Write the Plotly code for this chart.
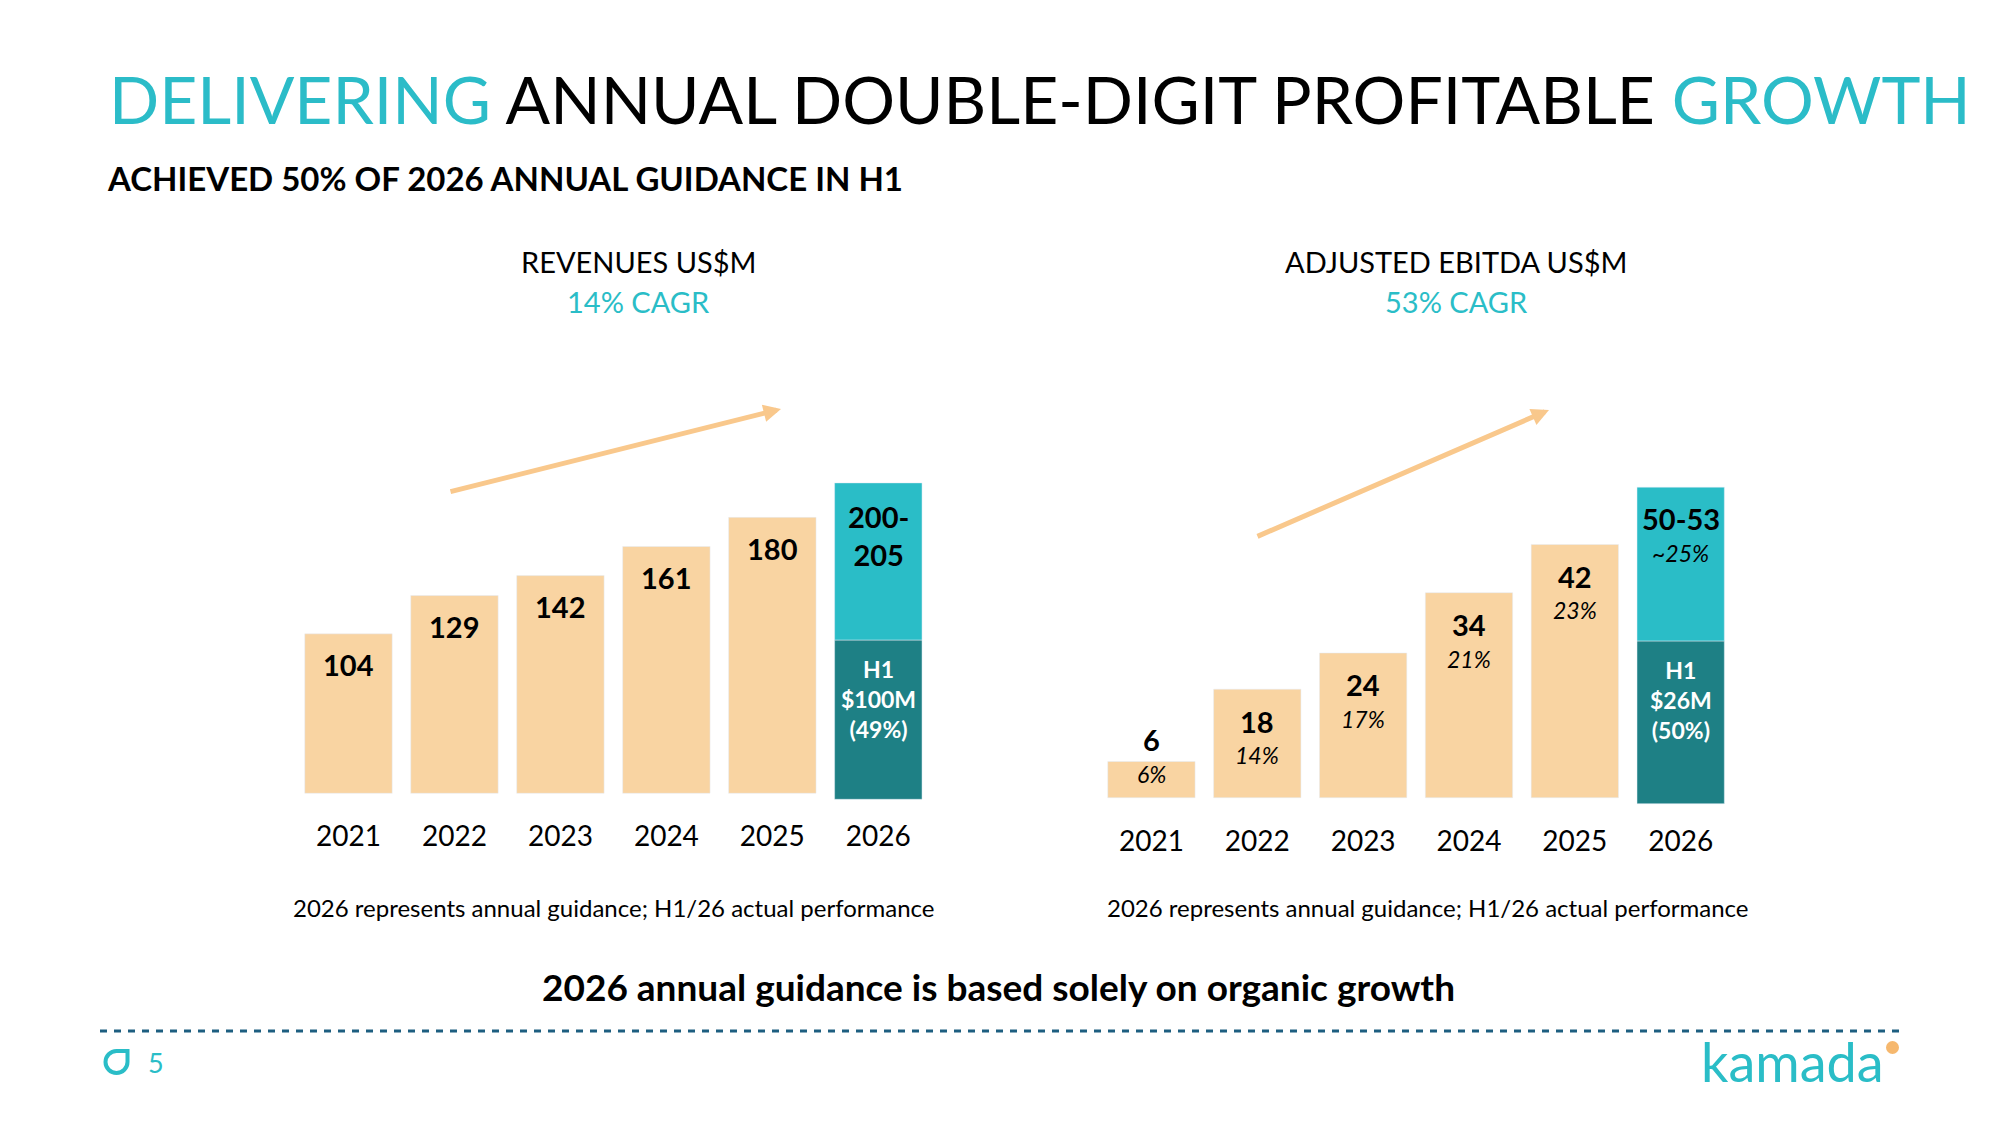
import plotly.graph_objects as go

# data
years = ['2021', '2022', '2023', '2024', '2025', '2026']
rev_hist = [104, 129, 142, 161, 180]          # 2021-2025
rev_2026_h1 = 100                             # H1/26 actual
rev_2026_guide = [200, 205]                   # annual guidance range
ebitda_hist = [6, 18, 24, 34, 42]
ebitda_margin = ['6%', '14%', '17%', '21%', '23%']
ebitda_2026_h1 = 26
ebitda_2026_guide = [50, 53]
ebitda_2026_margin = '~25%'
rev_h1_share = '49%'
ebitda_h1_share = '50%'

W, H = 2000, 1125
PEACH = '#F9D4A2'
TEAL = '#2ABDC7'
DARK = '#1E8085'
ARROW = '#F9C88C'
FONT = 'Lato'

# y scales: pixels per unit on each panel
REV_BASE, EB_BASE = 793.3, 797.7      # baseline pixel rows
REV_TOP, EB_TOP = 321.8, 82.54
REV_PPU = (REV_BASE - 300) / REV_TOP
EB_PPU = (EB_BASE - 300) / EB_TOP
DROP_PX = 6   # the H1 block hangs a little below the baseline
PAD_PX = 10   # room under the baseline


def px(x):
    return x / W


def py(y):
    return 1 - y / H


rev_mid = sum(rev_2026_guide) / 2
ebitda_mid = sum(ebitda_2026_guide) / 2
last = len(years) - 1

fig = go.Figure()


def add_panel(vals, h1, total, xa, ya, ppu):
    drop = DROP_PX / ppu
    fig.add_trace(go.Bar(x=years[:5], y=vals, marker_color=PEACH,
                         xaxis=xa, yaxis=ya, hoverinfo='skip'))
    fig.add_trace(go.Bar(x=[years[5]], y=[h1 + drop], base=[-drop], marker_color=DARK,
                         xaxis=xa, yaxis=ya, hoverinfo='skip'))
    fig.add_trace(go.Bar(x=[years[5]], y=[total - h1], base=[h1], marker_color=TEAL,
                         xaxis=xa, yaxis=ya, hoverinfo='skip'))


add_panel(rev_hist, rev_2026_h1, rev_mid, 'x', 'y', REV_PPU)
add_panel(ebitda_hist, ebitda_2026_h1, ebitda_mid, 'x2', 'y2', EB_PPU)

ann = []

# revenue labels (x given as category index)
for i, v in enumerate(rev_hist):
    ann.append(dict(x=i, y=v, xref='x', yref='y', text=f'<b>{v}</b>', showarrow=False,
                    yshift=-31, font=dict(size=29, color='black')))
ann.append(dict(x=last, y=rev_mid, xref='x', yref='y',
                text=f'<b>{rev_2026_guide[0]}-<br>{rev_2026_guide[1]}</b>', showarrow=False,
                yshift=-53, font=dict(size=29, color='black')))
ann.append(dict(x=last, y=rev_2026_h1, xref='x', yref='y',
                text=f'<b>H1<br>${rev_2026_h1}M<br>({rev_h1_share})</b>', showarrow=False,
                yshift=-59, font=dict(size=23, color='white')))

# ebitda labels
for i, (v, m) in enumerate(zip(ebitda_hist, ebitda_margin)):
    if v < 10:
        vs, ms = 22, -12
    else:
        vs, ms = -32, -66
    ann.append(dict(x=i, y=v, xref='x2', yref='y2', text=f'<b>{v}</b>', showarrow=False,
                    yshift=vs, font=dict(size=29, color='black')))
    ann.append(dict(x=i, y=v, xref='x2', yref='y2', text=f'<i>{m}</i>', showarrow=False,
                    yshift=ms, font=dict(size=23, color='black')))
ann.append(dict(x=last, y=ebitda_mid, xref='x2', yref='y2',
                text=f'<b>{ebitda_2026_guide[0]}-{ebitda_2026_guide[1]}</b>', showarrow=False,
                yshift=-31, font=dict(size=29, color='black')))
ann.append(dict(x=last, y=ebitda_mid, xref='x2', yref='y2',
                text=f'<i>{ebitda_2026_margin}</i>', showarrow=False,
                yshift=-66, font=dict(size=23, color='black')))
ann.append(dict(x=last, y=ebitda_2026_h1, xref='x2', yref='y2',
                text=f'<b>H1<br>${ebitda_2026_h1}M<br>({ebitda_h1_share})</b>', showarrow=False,
                yshift=-59, font=dict(size=23, color='white')))

# texts on the page
title = ("<span style='color:#2BBCC8'>DELIVERING</span> ANNUAL DOUBLE-DIGIT PROFITABLE "
         "<span style='color:#2BBCC8'>GROWTH</span>")
page_text = [
    (107, 98, title, 66, 'black', 'left'),
    (105, 178, '<b>ACHIEVED 50% OF 2026 ANNUAL GUIDANCE IN H1</b>', 33, 'black', 'left'),
    (638, 261, 'REVENUES US$M', 29, 'black', 'center'),
    (638, 301, '14% CAGR', 29, TEAL, 'center'),
    (1456, 261, 'ADJUSTED EBITDA US$M', 29, 'black', 'center'),
    (1456, 301, '53% CAGR', 29, TEAL, 'center'),
    (613, 907, '2026 represents annual guidance; H1/26 actual performance', 24, 'black', 'center'),
    (1427, 907, '2026 represents annual guidance; H1/26 actual performance', 24, 'black', 'center'),
    (998, 986, '<b>2026 annual guidance is based solely on organic growth</b>', 37, 'black', 'center'),
    (156, 1062, '5', 27, TEAL, 'center'),
    (1792, 1061, 'kamada', 54, TEAL, 'center'),
]
for x, y, t, s, c, a in page_text:
    ann.append(dict(x=px(x), y=py(y), xref='paper', yref='paper', text=t, showarrow=False,
                    xanchor=a, yanchor='middle', font=dict(size=s, color=c)))

# growth arrows
for hx, hy, tx, ty in [(781, 409, 449, 492), (1549, 410, 1256, 537)]:
    ann.append(dict(x=px(hx), y=py(hy), xref='paper', yref='paper', text='', showarrow=True,
                    ax=tx - hx, ay=ty - hy, arrowhead=2, arrowsize=0.7, arrowwidth=5,
                    arrowcolor=ARROW, standoff=0))

shapes = [
    dict(type='line', xref='paper', yref='paper', x0=px(100), x1=px(1902), y0=py(1031), y1=py(1031),
         line=dict(color='#1D5E80', width=3, dash='7px,7px')),
    dict(type='circle', xref='paper', yref='paper', x0=px(1886), x1=px(1899), y0=py(1041), y1=py(1054),
         fillcolor='#F6B86E', line_width=0),
    dict(type='path', xref='paper', yref='paper', xsizemode='pixel', ysizemode='pixel',
         xanchor=px(116.5), yanchor=py(1062),
         path='M 0 11 L 11 11 L 11 0 C 11 -6.1 6.1 -11 0 -11 C -6.1 -11 -11 -6.1 -11 0 '
              'C -11 6.1 -6.1 11 0 11 Z',
         line=dict(color=TEAL, width=4)),
]

axis_x = dict(type='category', range=[-0.5, last + 0.5], showgrid=False, zeroline=False,
              showline=False, ticks='', tickfont=dict(size=28, color='black'),
              ticklabelstandoff=24 - PAD_PX, fixedrange=True)
axis_y = dict(visible=False, showgrid=False, zeroline=False, fixedrange=True)

fig.update_layout(
    width=W, height=H,
    margin=dict(l=0, r=0, t=0, b=0),
    plot_bgcolor='white',
    paper_bgcolor='white',
    font=dict(family=FONT, color='black'),
    barmode='overlay',
    bargap=0.175,
    showlegend=False,
    xaxis=dict(axis_x, domain=[0.14775, 0.46565], anchor='y'),
    yaxis=dict(axis_y, domain=[py(REV_BASE + PAD_PX), py(300)],
               range=[-PAD_PX / REV_PPU, REV_TOP], anchor='x'),
    xaxis2=dict(axis_x, domain=[0.54925, 0.8668], anchor='y2'),
    yaxis2=dict(axis_y, domain=[py(EB_BASE + PAD_PX), py(300)],
                range=[-PAD_PX / EB_PPU, EB_TOP], anchor='x2'),
    annotations=ann,
    shapes=shapes,
)

# page body margin off so the slide sits at the window corner
fig.write_html("out.html", config={'displayModeBar': False},
               post_script="document.body.style.margin='0';")
